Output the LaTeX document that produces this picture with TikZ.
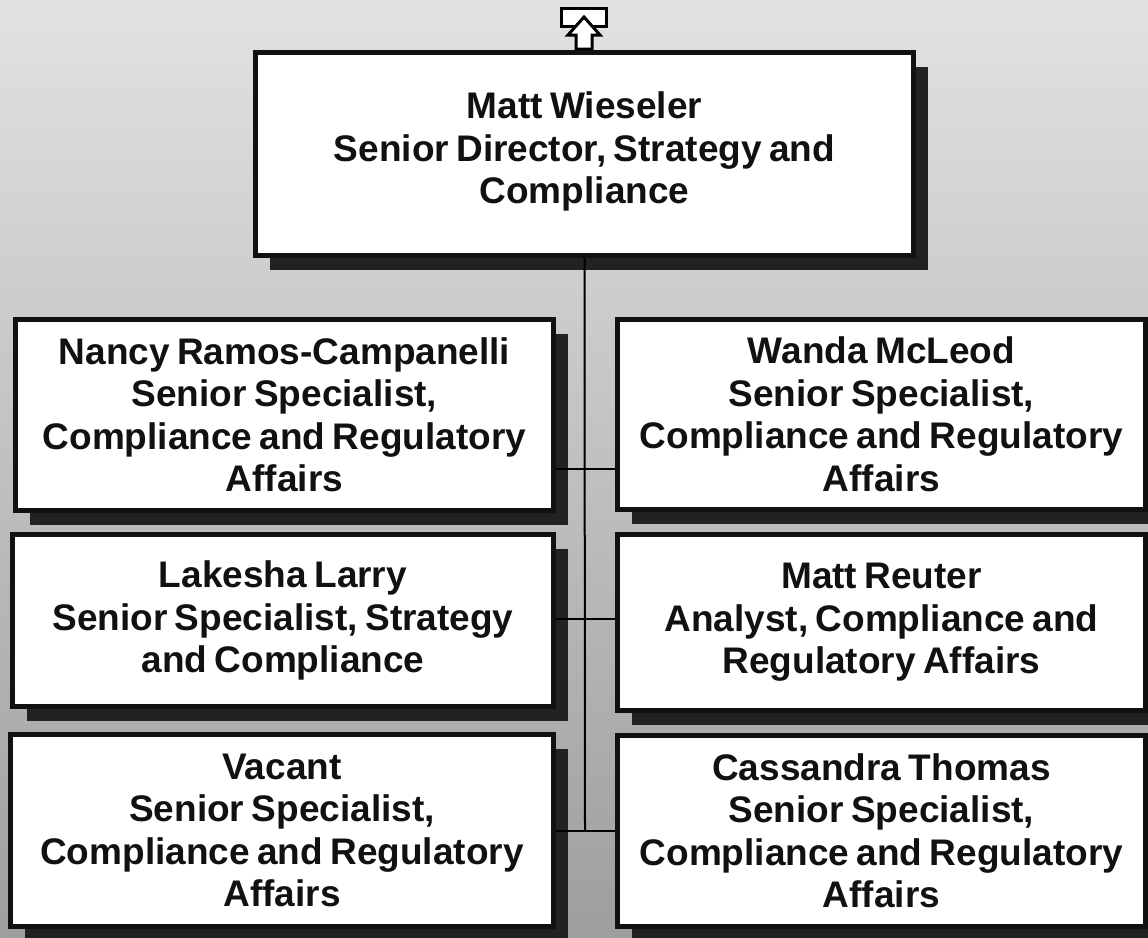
\documentclass[tikz,border=0pt]{standalone}
\usepackage{fontspec}
\setmainfont{Liberation Sans}
\usetikzlibrary{shadows}
\definecolor{bordercol}{HTML}{111111}
\definecolor{shadowcol}{HTML}{222222}
\definecolor{bgtop}{HTML}{E2E2E2}
\definecolor{bgmid}{HTML}{C6C6C6}
\definecolor{bgbot}{HTML}{9E9E9E}
\newcommand{\boxfont}{\fontsize{37}{42.5}\selectfont\bfseries\spaceskip=0.2em plus 0.05em minus 0.05em\relax}
\tikzset{
  person/.style={draw=bordercol, line width=5pt, fill=white, align=center,
    inner sep=0pt, text=bordercol, font=\boxfont,
    drop shadow={shadow xshift=14pt, shadow yshift=-14pt, fill=shadowcol, opacity=1}},
  link/.style={draw=black, line width=2pt},
  icon/.style={draw=black, line width=3pt, fill=white, line join=miter}
}
\begin{document}
\begin{tikzpicture}[x=1pt, y=-1pt]
\useasboundingbox (0,0) rectangle (1148,937);
\shade[top color=bgtop, middle color=bgmid, bottom color=bgbot] (0,0) rectangle (1148,937);
% up icon
\draw[icon] (561.5,8.5) rectangle (606.5,26.5);
\draw[icon] (584,17) -- (600,35) -- (592,35) -- (592,49) -- (576,49) -- (576,35) -- (568,35) -- cycle;
% boxes
\node[person, minimum width=658pt, minimum height=203pt, text depth=12pt] (top) at (584.5,154)
  {Matt Wieseler\\Senior Director, Strategy and\\Compliance};
\node[person, minimum width=538pt, minimum height=191pt] (l1) at (284.5,415)
  {Nancy Ramos-Campanelli\\Senior Specialist,\\Compliance and Regulatory\\Affairs};
\node[person, minimum width=528pt, minimum height=190pt] (r1) at (881.5,414.5)
  {Wanda McLeod\\Senior Specialist,\\Compliance and Regulatory\\Affairs};
\node[person, minimum width=541pt, minimum height=172pt] (l2) at (283,620.5)
  {Lakesha Larry\\Senior Specialist, Strategy\\and Compliance};
\node[person, minimum width=528pt, minimum height=176pt] (r2) at (881.5,622.5)
  {Matt Reuter\\Analyst, Compliance and\\Regulatory Affairs};
\node[person, minimum width=543pt, minimum height=192pt] (l3) at (282,830.5)
  {Vacant\\Senior Specialist,\\Compliance and Regulatory\\Affairs};
\node[person, minimum width=528pt, minimum height=191pt] (r3) at (881.5,831)
  {Cassandra Thomas\\Senior Specialist,\\Compliance and Regulatory\\Affairs};
% connectors
\coordinate (j1) at (585,469);
\coordinate (j2) at (585,619);
\coordinate (j3) at (585,831);
\draw[link] (top.south) -- (j3);
\draw[link] (l1.east |- j1) -- (r1.west |- j1);
\draw[link] (l2.east |- j2) -- (r2.west |- j2);
\draw[link] (l3.east |- j3) -- (r3.west |- j3);
\end{tikzpicture}
\end{document}
